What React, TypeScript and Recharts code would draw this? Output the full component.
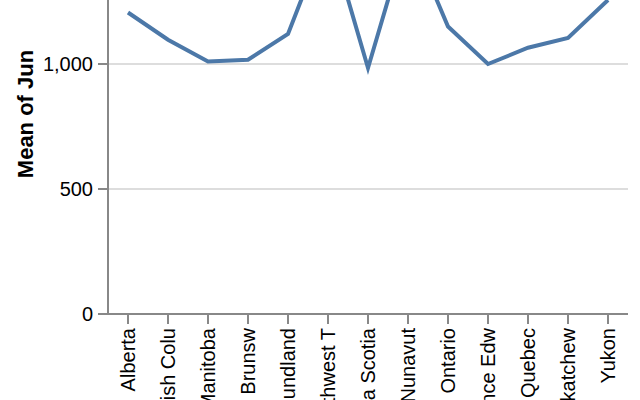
import { LineChart, Line, XAxis, YAxis, CartesianGrid } from "recharts";

// province labels as they appear on the axis (already cut short)
const provinces = [
  "Alberta", "British Colu", "Manitoba", "New Brunsw", "Newfoundland", "Northwest T",
  "Nova Scotia", "Nunavut", "Ontario", "Prince Edw", "Quebec", "Saskatchew", "Yukon",
];
const meanJun = [1206, 1097, 1010, 1017, 1120, 1532, 984, 1527, 1150, 1000, 1065, 1104, 1256];
const yTicks = [0, 500, 1000, 1500];

const data = provinces.map((p, i) => ({ province: p, jun: meanJun[i] }));

const FONT = "'Liberation Sans', Arial, sans-serif";
const AXIS = "#888";

function XTick({ x, y, payload }: any) {
  return (
    <text
      x={x}
      y={y}
      transform={`rotate(-90, ${x}, ${y})`}
      textAnchor="end"
      dy="0.35em"
      fontSize={20}
      fontFamily={FONT}
      fill="#000"
    >
      {payload.value}
    </text>
  );
}

function YTitle({ viewBox }: any) {
  const cx = 33;
  const cy = viewBox.y + viewBox.height / 2;
  return (
    <text
      x={cx}
      y={cy}
      transform={`rotate(-90, ${cx}, ${cy})`}
      textAnchor="middle"
      fontSize={22}
      fontWeight="bold"
      fontFamily={FONT}
      fill="#000"
    >
      Mean of Jun
    </text>
  );
}

export default function App() {
  return (
    <div style={{ position: "absolute", left: 0, top: 0, width: 640, height: 400, overflow: "hidden", background: "#fff" }}>
      <div style={{ position: "absolute", left: 0, top: -86 }}>
        <LineChart width={640} height={560} data={data} margin={{ top: 0, right: 12, bottom: 0, left: 0 }}>
          <CartesianGrid vertical={false} stroke="#ddd" strokeWidth={2} />
          <XAxis
            dataKey="province"
            type="category"
            scale="point"
            padding={{ left: 20, right: 20 }}
            height={160}
            interval={0}
            tickSize={10}
            tickMargin={4}
            tickLine={{ stroke: AXIS, strokeWidth: 2 }}
            axisLine={{ stroke: AXIS, strokeWidth: 2 }}
            tick={<XTick />}
          />
          <YAxis
            domain={[0, 1600]}
            ticks={yTicks}
            width={108}
            tickSize={10}
            tickMargin={5}
            tickLine={{ stroke: AXIS, strokeWidth: 2 }}
            axisLine={{ stroke: AXIS, strokeWidth: 2 }}
            tickFormatter={(v: number) => v.toLocaleString("en-US")}
            tick={{ fontSize: 20, fontFamily: FONT, fill: "#000" }}
            label={{ content: <YTitle /> }}
          />
          <YAxis
            yAxisId="frame"
            orientation="right"
            width={0}
            tick={false}
            tickLine={false}
            axisLine={{ stroke: "#ddd", strokeWidth: 2 }}
          />
          <Line
            dataKey="jun"
            type="linear"
            stroke="#4c78a8"
            strokeWidth={4}
            dot={false}
            activeDot={false}
            isAnimationActive={false}
          />
        </LineChart>
      </div>
    </div>
  );
}
